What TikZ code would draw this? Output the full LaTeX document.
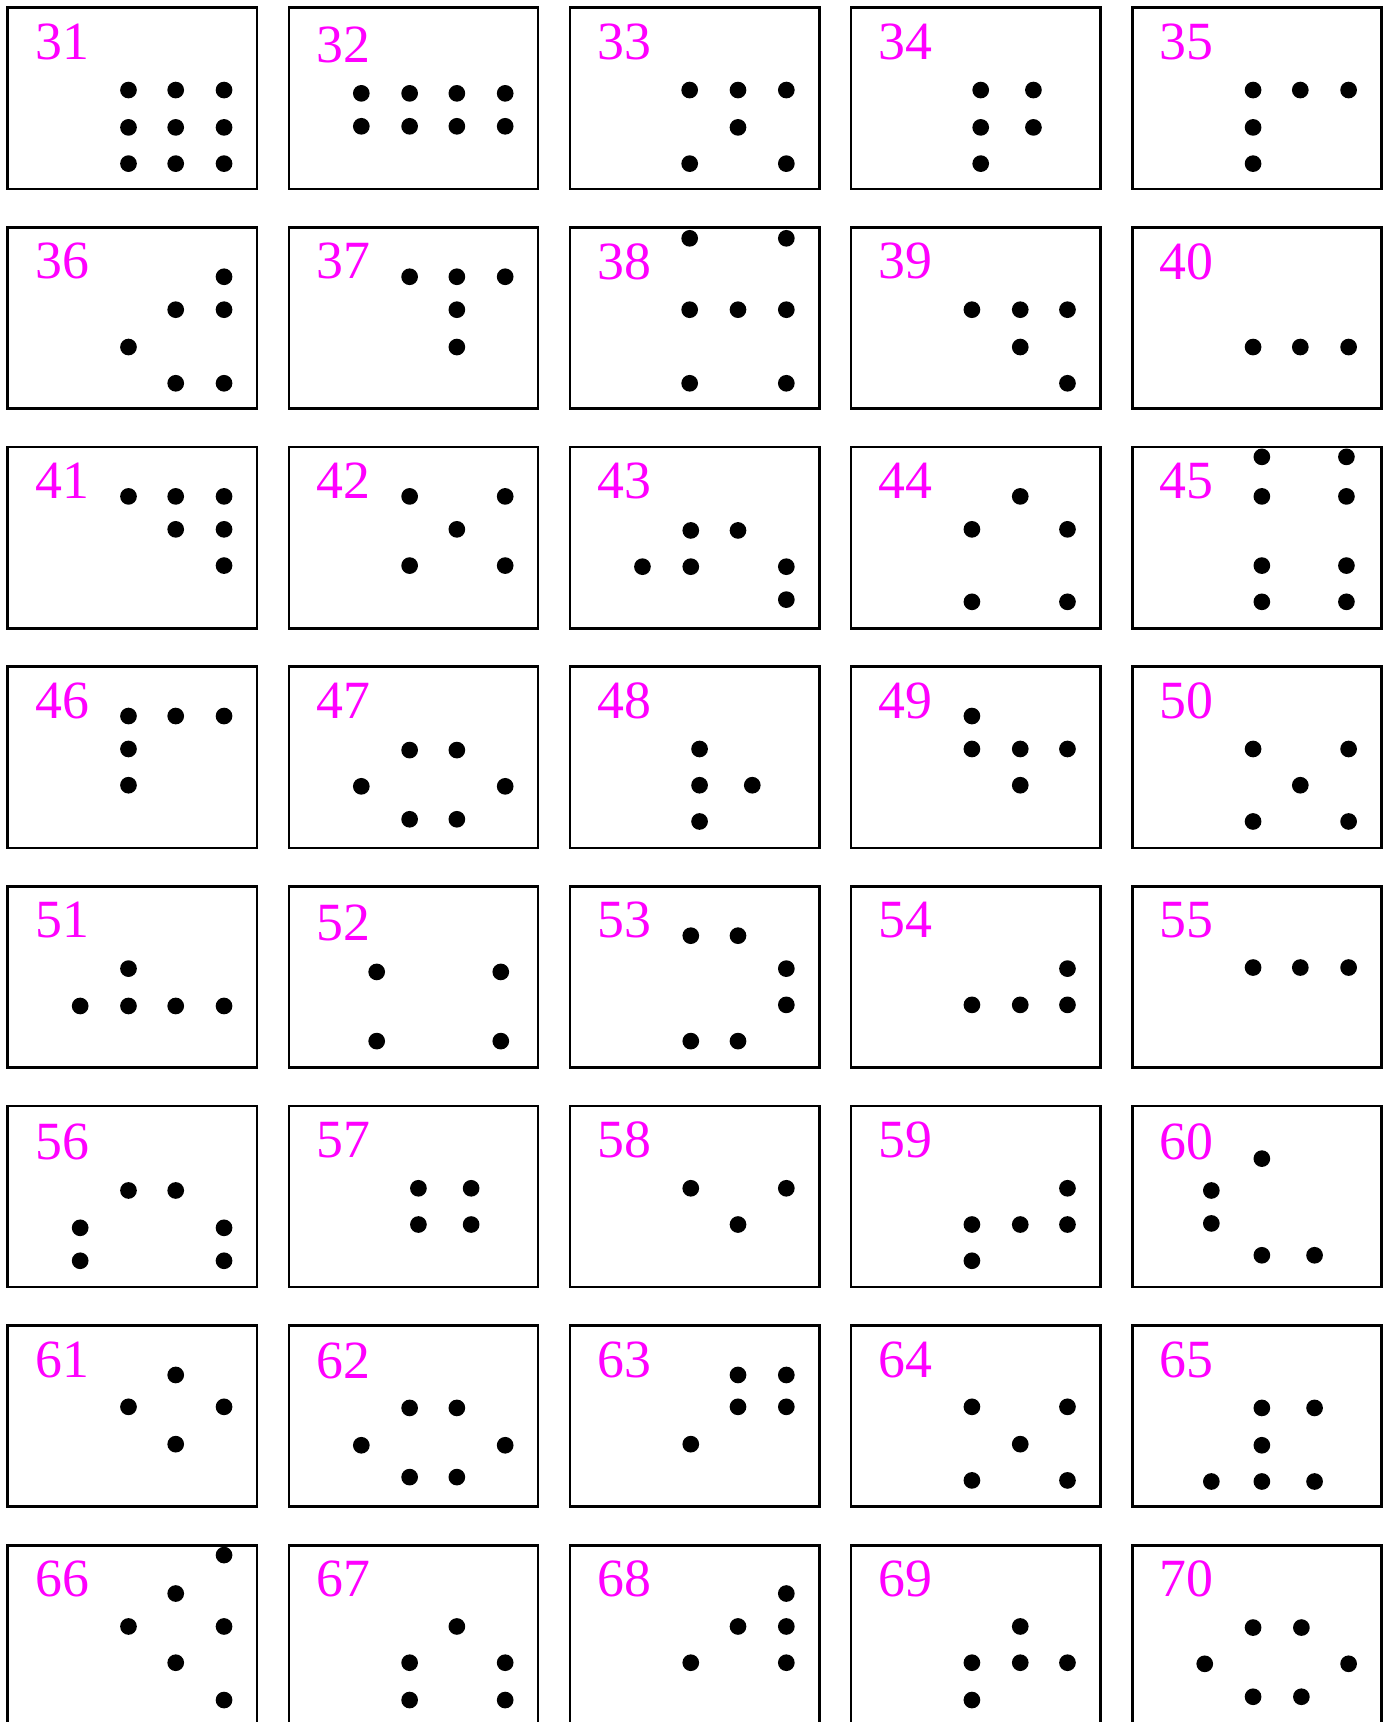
\documentclass[tikz,border=0pt]{standalone}
\usepackage{fontspec}
\setmainfont{Liberation Serif}
\definecolor{lab}{RGB}{255,0,255}
\tikzset{
  frame/.style={draw=black,line width=2.4pt},
  lbl/.style={anchor=west,inner sep=0pt,text=lab,font=\fontsize{49}{49}\selectfont},
  dotfill/.style={fill=black}
}
\begin{document}
\begin{tikzpicture}[x=1pt,y=-1pt]
\useasboundingbox (0,0) rectangle (1265,1568);
\fill[white] (0,0) rectangle (1265,1568);
\foreach \n/\dy [count=\i from 0] in {31/0,32/3,33/0,34/0,35/0,36/0,37/0,38/0,39/0,40/0,
  41/0,42/0,43/0,44/0,45/0,46/0,47/0,48/0,49/0,50/0,51/0,52/2,53/0,54/0,55/0,
  56/2,57/0,58/0,59/0,60/2,61/0,62/1,63/0,64/0,65/0,66/0,67/0,68/0,69/0,70/0} {
  \pgfmathtruncatemacro\cc{mod(\i,5)}
  \pgfmathtruncatemacro\rr{div(\i,5)}
  \pgfmathsetmacro\X{7+256*\cc}
  \pgfmathsetmacro\Y{7+200*\rr}
  \draw[frame] (\X,\Y) rectangle ++(227,165);
  \node[lbl] (L\n) at (\X+25,\Y+31+\dy) {\n};
}
\foreach \a/\b in {
 117/82,160/82,204/82,117/116,160/116,204/116,117/149,160/149,204/149,
 329/85,373/85,416/85,460/85,329/115,373/115,416/115,460/115,
 628/82,672/82,716/82,672/116,628/149,716/149,
 893/82,941/82,893/116,941/116,893/149,
 1141/82,1184/82,1228/82,1141/116,1141/149,
 204/252,160/282,204/282,117/316,160/349,204/349,
 373/252,416/252,460/252,416/282,416/316,
 628/217,716/217,628/282,672/282,716/282,628/349,716/349,
 885/282,929/282,972/282,929/316,972/349,
 1141/316,1184/316,1228/316,
 117/452,160/452,204/452,160/482,204/482,204/515,
 373/452,460/452,416/482,373/515,460/515,
 629/483,672/483,585/516,629/516,716/516,716/546,
 929/452,885/482,972/482,885/548,972/548,
 1149/416,1226/416,1149/452,1226/452,1149/515,1226/515,1149/548,1226/548,
 117/652,160/652,204/652,117/682,117/715,
 373/683,416/683,329/716,460/716,373/746,416/746,
 637/682,637/715,685/715,637/748,
 885/652,885/682,929/682,972/682,929/715,
 1141/682,1228/682,1184/715,1141/748,1228/748,
 117/882,73/916,117/916,160/916,204/916,
 343/885,456/885,343/948,456/948,
 629/852,672/852,716/882,716/915,629/948,672/948,
 972/882,885/915,929/915,972/915,
 1141/881,1184/881,1228/881,
 117/1084,160/1084,73/1118,204/1118,73/1148,204/1148,
 381/1082,429/1082,381/1115,429/1115,
 629/1082,716/1082,672/1115,
 972/1082,885/1115,929/1115,972/1115,885/1148,
 1149/1055,1103/1084,1103/1114,1149/1143,1197/1143,
 160/1252,117/1281,204/1281,160/1315,
 373/1282,416/1282,329/1316,460/1316,373/1345,416/1345,
 672/1252,716/1252,672/1281,716/1281,629/1315,
 885/1281,972/1281,929/1315,885/1348,972/1348,
 1149/1282,1197/1282,1149/1316,1103/1349,1149/1349,1197/1349,
 204/1416,160/1451,117/1481,204/1481,160/1514,204/1548,
 416/1481,373/1514,460/1514,373/1548,460/1548,
 716/1451,672/1481,716/1481,629/1514,716/1514,
 929/1481,885/1514,929/1514,972/1514,885/1548,
 1141/1482,1185/1482,1097/1515,1228/1515,1141/1545,1185/1545} {
  \fill[dotfill] (\a,\b) circle[radius=7.6pt];
}
\end{tikzpicture}
\end{document}
